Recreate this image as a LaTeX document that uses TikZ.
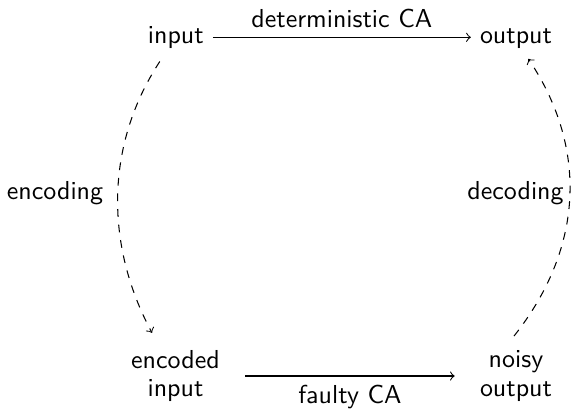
\documentclass[tikz,border=0pt]{standalone}
\usetikzlibrary{calc}
\begin{document}
\begin{tikzpicture}[x=0.385pt,y=-0.385pt,
  every node/.style={font=\sffamily},
  lbl/.style={inner sep=3.33pt},
  arr/.style={->},
  darr/.style={->,dashed}]
\useasboundingbox (0,0) rectangle (575,409);
\node[anchor=base] (input) at (175.8,43.3) {input};
\node[anchor=base] (output) at (516,43.3) {output};
\node[align=center] (enc) at (175.5,376) {encoded\\[-1.1pt]input};
\node[align=center] (noisy) at (516,376) {noisy\\[-1.1pt]output};
\node[anchor=base] (encoding) at (55,200) {encoding};
\node[anchor=base] (decoding) at (515.5,200) {decoding};
\draw[arr] (input.east) -- node[above] (det) {deterministic CA} (input.east -| output.west);
\draw[arr,shorten <=6.2pt,shorten >=6.2pt] (enc.east) -- node[below] (faulty) {faulty CA} (enc.east -| noisy.west);
\draw[darr] ($(input.south)+(-16,4)$) .. controls (105,145) and (105,245) .. ($(enc.north)+(-23.5,-8.3)$);
\draw[darr] ($(noisy.north)+(-2,-5.6)$) .. controls (586,245) and (586,145) .. ($(output.south)+(12.3,1.3)$);
\end{tikzpicture}
\end{document}
